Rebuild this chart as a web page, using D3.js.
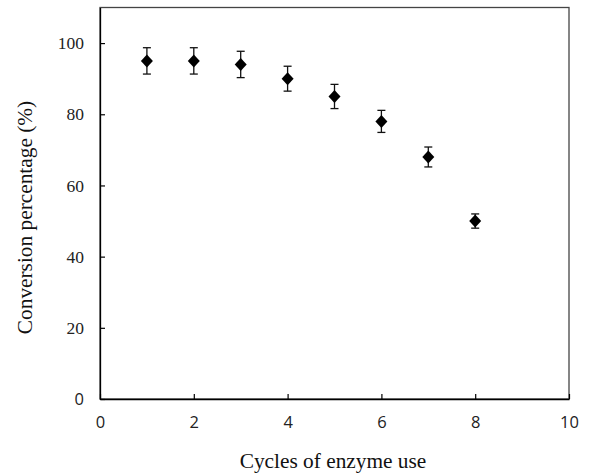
<!DOCTYPE html>
<html><head><meta charset="utf-8">
<script src="https://cdn.jsdelivr.net/npm/d3@7"></script>
<style>html,body{margin:0;padding:0;background:#fff;}</style>
</head><body>
<svg id="chart" width="592" height="473"></svg>
<script>
const cycles = [1, 2, 3, 4, 5, 6, 7, 8];
const conversion = [95, 95, 94, 90, 85, 78, 68, 50];
const errors = [3.7, 3.7, 3.7, 3.5, 3.4, 3.1, 2.8, 2.0];
const xTicks = [0, 2, 4, 6, 8, 10];
const yTicks = [0, 20, 40, 60, 80, 100];
const xTitle = "Cycles of enzyme use";
const yTitle = "Conversion percentage (%)";

const svg = d3.select("#chart");
const L = 100, R = 569, T = 7.5, B = 399;
const x = d3.scaleLinear().domain([0, 10]).range([L, R]);
const y = d3.scaleLinear().domain([0, 110]).range([B, T]);
const serif = "Liberation Serif";
const sans = "Open Sans";

// frame
svg.append("rect").attr("x", L).attr("y", T).attr("width", R - L).attr("height", B - T)
  .attr("fill", "none").attr("stroke", "#444").attr("stroke-width", 1.3);

// x axis
const xa = svg.append("g").attr("transform", `translate(0,${B})`)
  .call(d3.axisBottom(x).tickValues(xTicks).tickSizeInner(-5).tickSizeOuter(0).tickPadding(17));
xa.attr("font-size", 16.5).attr("font-family", sans);
xa.select(".domain").attr("stroke", "#000").attr("stroke-width", 1.3);
xa.selectAll(".tick line").attr("stroke", "#000").attr("stroke-width", 1.2);
xa.selectAll(".tick text").attr("fill", "#222");

// y axis
const ya = svg.append("g").attr("transform", `translate(${L},0)`)
  .call(d3.axisLeft(y).tickValues(yTicks).tickSizeInner(-5).tickSizeOuter(0).tickPadding(16));
ya.attr("font-size", 17.5).attr("font-family", serif);
ya.select(".domain").attr("stroke", "#000").attr("stroke-width", 1.3);
ya.selectAll(".tick line").attr("stroke", "#000").attr("stroke-width", 1.2);
ya.selectAll(".tick text").attr("fill", "#222");
ya.selectAll(".tick text").filter(d => d === 0)
  .attr("font-family", sans).attr("font-size", 16.5);

// titles
svg.append("text").attr("x", 333).attr("y", 468).attr("text-anchor", "middle")
  .attr("font-family", serif).attr("font-size", 21.33).attr("fill", "#111").text(xTitle);
svg.append("text").attr("transform", `translate(32,217.5) rotate(-90)`)
  .attr("text-anchor", "middle").attr("font-family", serif).attr("font-size", 21.33)
  .attr("fill", "#111").text(yTitle);

const data = cycles.map((c, i) => ({ c, v: conversion[i], e: errors[i] }));

// error bars
const eb = svg.append("g").attr("stroke", "#111").attr("stroke-width", 1.3);
eb.selectAll("line.v").data(data).join("line").attr("class", "v")
  .attr("x1", d => x(d.c)).attr("x2", d => x(d.c))
  .attr("y1", d => y(d.v + d.e)).attr("y2", d => y(d.v - d.e));
eb.selectAll("line.t").data(data).join("line").attr("class", "t")
  .attr("x1", d => x(d.c) - 4).attr("x2", d => x(d.c) + 4)
  .attr("y1", d => y(d.v + d.e)).attr("y2", d => y(d.v + d.e));
eb.selectAll("line.b").data(data).join("line").attr("class", "b")
  .attr("x1", d => x(d.c) - 4).attr("x2", d => x(d.c) + 4)
  .attr("y1", d => y(d.v - d.e)).attr("y2", d => y(d.v - d.e));

// diamond markers
svg.append("g").selectAll("path").data(data).join("path")
  .attr("transform", d => `translate(${x(d.c)},${y(d.v)})`)
  .attr("d", "M0,-6.5L6,0L0,6.5L-6,0Z").attr("fill", "#000");
</script>
</body></html>
